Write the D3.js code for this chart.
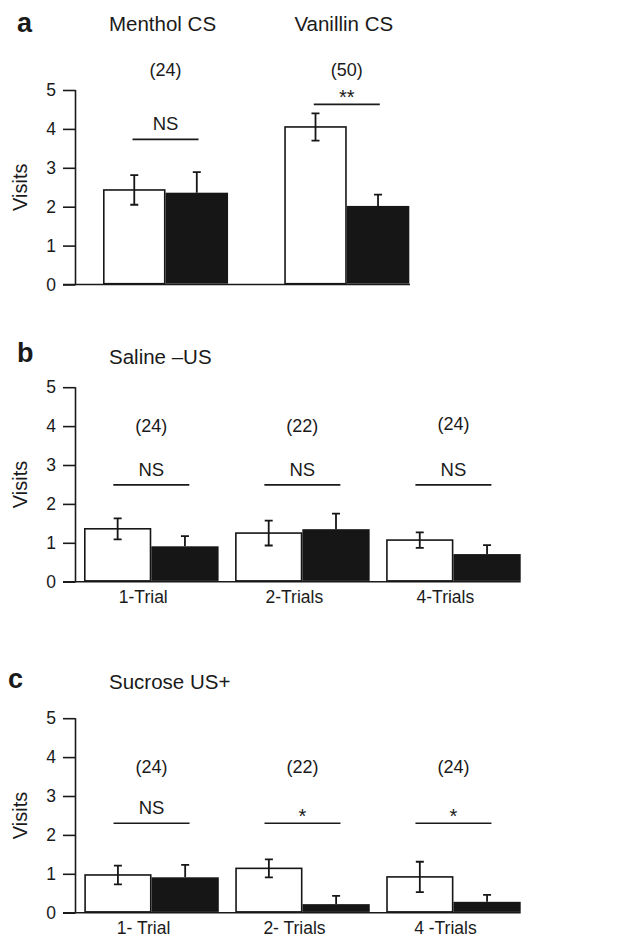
<!DOCTYPE html>
<html lang="en">
<head>
    <meta charset="utf-8" />
    <title>Visits bar charts</title>
    <script src="https://d3js.org/d3.v7.min.js"></script>
    <style>
        body {
            margin: 0;
            padding: 0;
            background: #fff;
        }
        svg text {
            font-family: "Liberation Sans", Arial, sans-serif;
            fill: #1a1a1a;
        }
    </style>
</head>
<body>
<svg id="chart"></svg>
<script>
    var w = 631;
    var h = 939;

    // Bar series: white = CS odour, black = control odour
    var series = ["cs", "control"];

    // Panel a
    var catsA = ["Menthol CS", "Vanillin CS"];
    var meanA = [[2.43, 2.36], [4.05, 2.02]];
    var errA = [[0.38, 0.53], [0.35, 0.29]];
    var nA = ["(24)", "(50)"];
    var sigA = ["NS", "**"];

    // Panel b
    var catsB = ["1-Trial", "2-Trials", "4-Trials"];
    var meanB = [[1.36, 0.91], [1.25, 1.35], [1.07, 0.71]];
    var errB = [[0.27, 0.26], [0.32, 0.40], [0.20, 0.23]];
    var nB = ["(24)", "(22)", "(24)"];
    var sigB = ["NS", "NS", "NS"];

    // Panel c
    var catsC = ["1- Trial", "2- Trials", "4 -Trials"];
    var meanC = [[0.97, 0.91], [1.14, 0.22], [0.92, 0.28]];
    var errC = [[0.24, 0.32], [0.23, 0.21], [0.39, 0.18]];
    var nC = ["(24)", "(22)", "(24)"];
    var sigC = ["NS", "*", "*"];

    var yTicks = [0, 1, 2, 3, 4, 5];

    var svg = d3.select("#chart")
        .attr("width", w)
        .attr("height", h);

    // layout of each panel (pixel frame + annotation levels in data units)
    var panels = [
        {letter: "a", letterX: 17, letterY: 32, cats: catsA, mean: meanA, err: errA, n: nA, sig: sigA,
         base: 284.5, x0: 103, x1: 409.3, padIn: 0.31, axisEnd: 410,
         nLevel: [5.36, 5.36], sigLevel: [3.73, 4.63], titles: "group", showX: false},
        {letter: "b", letterX: 17, letterY: 362, title: "Saline \u2013US", titleY: 364,
         cats: catsB, mean: meanB, err: errB, n: nB, sig: sigB,
         base: 581.7, x0: 84, x1: 520.7, padIn: 0.109, axisEnd: 520.7,
         nLevel: [3.86, 3.86, 3.9], sigLevel: [2.49, 2.49, 2.49], showX: true},
        {letter: "c", letterX: 8, letterY: 688, title: "Sucrose US+", titleY: 689,
         cats: catsC, mean: meanC, err: errC, n: nC, sig: sigC,
         base: 912.7, x0: 84.3, x1: 520.7, padIn: 0.109, axisEnd: 520.7,
         nLevel: [3.6, 3.6, 3.6], sigLevel: [2.3, 2.3, 2.3], showX: true}
    ];

    var unit = 38.9;
    var axisX = 75.5;

    panels.forEach(function(p) {
        var g = svg.append("g");

        var yScale = d3.scaleLinear()
            .domain([0, 5])
            .range([p.base, p.base - 5 * unit]);

        var xScale = d3.scaleBand()
            .domain(d3.range(p.cats.length))
            .range([p.x0, p.x1])
            .paddingInner(p.padIn)
            .paddingOuter(0);

        var xInner = d3.scaleBand()
            .domain(series)
            .range([0, xScale.bandwidth()]);

        // panel letter
        g.append("text")
            .attr("x", p.letterX)
            .attr("y", p.letterY)
            .attr("font-size", "27px")
            .attr("font-weight", "bold")
            .text(p.letter);

        // titles
        if (p.titles === "group") {
            g.selectAll(".gtitle")
                .data(p.cats)
                .enter().append("text")
                .attr("x", function(d, i) { return xScale(i) + xScale.bandwidth() / 2 - 3; })
                .attr("y", 31)
                .attr("text-anchor", "middle")
                .attr("font-size", "20.5px")
                .text(function(d) { return d; });
        } else {
            g.append("text")
                .attr("x", 109)
                .attr("y", p.titleY)
                .attr("font-size", "20.5px")
                .text(p.title);
        }

        // y axis
        var yAxis = d3.axisLeft(yScale)
            .tickValues(yTicks)
            .tickSize(12.5)
            .tickPadding(7)
            .tickFormat(d3.format("d"));

        var ya = g.append("g")
            .attr("transform", "translate(" + axisX + ",0)")
            .call(yAxis);
        ya.select(".domain").remove();
        ya.append("line")
            .attr("x1", 0).attr("x2", 0)
            .attr("y1", yScale(5)).attr("y2", yScale(0))
            .attr("stroke", "#1a1a1a")
            .attr("stroke-width", 1.6);
        ya.selectAll(".tick line")
            .attr("stroke", "#1a1a1a")
            .attr("stroke-width", 1.6);
        ya.selectAll(".tick text")
            .attr("font-size", "17.5px")
            .attr("font-family", "Liberation Sans, Arial, sans-serif")
            .attr("fill", "#1a1a1a");

        // x baseline
        g.append("line")
            .attr("x1", axisX - 12.5)
            .attr("x2", p.axisEnd)
            .attr("y1", yScale(0))
            .attr("y2", yScale(0))
            .attr("stroke", "#1a1a1a")
            .attr("stroke-width", 1.6);

        // y label
        g.append("text")
            .attr("transform", "translate(27," + ((yScale(0) + yScale(5)) / 2) + ") rotate(-90)")
            .attr("text-anchor", "middle")
            .attr("font-size", "20px")
            .text("Visits");

        // bars
        var groups = g.selectAll(".grp")
            .data(p.mean)
            .enter().append("g")
            .attr("transform", function(d, i) { return "translate(" + xScale(i) + ",0)"; });

        groups.selectAll("rect")
            .data(function(d, i) {
                return series.map(function(s, j) {
                    return {s: s, v: d[j], e: p.err[i][j]};
                });
            })
            .enter().append("rect")
            .attr("x", function(d) { return xInner(d.s) + (d.s === "cs" ? 0.8 : 0); })
            .attr("y", function(d) { return yScale(d.v); })
            .attr("width", function(d) { return xInner.bandwidth() - (d.s === "cs" ? 1.6 : 0); })
            .attr("height", function(d) { return yScale(0) - yScale(d.v) - 0.8; })
            .attr("fill", function(d) { return d.s === "cs" ? "#fff" : "#161616"; })
            .attr("stroke", function(d) { return d.s === "cs" ? "#161616" : "none"; })
            .attr("stroke-width", 1.6);

        // error bars: two-sided on white bars, upward only on black bars
        var capW = 4;
        groups.selectAll(".err")
            .data(function(d, i) {
                return series.map(function(s, j) {
                    return {s: s, v: d[j], e: p.err[i][j]};
                });
            })
            .enter().append("path")
            .attr("fill", "none")
            .attr("stroke", "#161616")
            .attr("stroke-width", 1.8)
            .attr("d", function(d) {
                var cx = xInner(d.s) + xInner.bandwidth() / 2;
                var top = yScale(d.v + d.e);
                var bot = d.s === "cs" ? yScale(d.v - d.e) : yScale(d.v);
                var path = "M" + (cx - capW) + "," + top + "H" + (cx + capW) +
                           "M" + cx + "," + top + "V" + bot;
                if (d.s === "cs") {
                    path += "M" + (cx - capW) + "," + bot + "H" + (cx + capW);
                }
                return path;
            });

        // n labels
        g.selectAll(".nlab")
            .data(p.n)
            .enter().append("text")
            .attr("x", function(d, i) { return xScale(i) + xScale.bandwidth() / 2; })
            .attr("y", function(d, i) { return yScale(p.nLevel[i]); })
            .attr("text-anchor", "middle")
            .attr("font-size", "18px")
            .text(function(d) { return d; });

        // significance lines
        var lineHalf = p.letter === "a" ? 33 : 38;
        g.selectAll(".sigline")
            .data(p.sig)
            .enter().append("line")
            .attr("x1", function(d, i) { return xScale(i) + xScale.bandwidth() / 2 - lineHalf; })
            .attr("x2", function(d, i) { return xScale(i) + xScale.bandwidth() / 2 + lineHalf; })
            .attr("y1", function(d, i) { return yScale(p.sigLevel[i]); })
            .attr("y2", function(d, i) { return yScale(p.sigLevel[i]); })
            .attr("stroke", "#1a1a1a")
            .attr("stroke-width", 1.6);

        g.selectAll(".sigtext")
            .data(p.sig)
            .enter().append("text")
            .attr("x", function(d, i) { return xScale(i) + xScale.bandwidth() / 2; })
            .attr("y", function(d, i) {
                return yScale(p.sigLevel[i]) - (d === "NS" ? 9 : 0);
            })
            .attr("text-anchor", "middle")
            .attr("font-size", function(d) { return d === "NS" ? "18.5px" : "20px"; })
            .text(function(d) { return d; });

        // x category labels
        if (p.showX) {
            g.selectAll(".xlab")
                .data(p.cats)
                .enter().append("text")
                .attr("x", function(d, i) { return xScale(i) + xScale.bandwidth() / 2 - 8; })
                .attr("y", yScale(0) + 21.5)
                .attr("text-anchor", "middle")
                .attr("font-size", "17.5px")
                .text(function(d) { return d; });
        }
    });
</script>
</body>
</html>
